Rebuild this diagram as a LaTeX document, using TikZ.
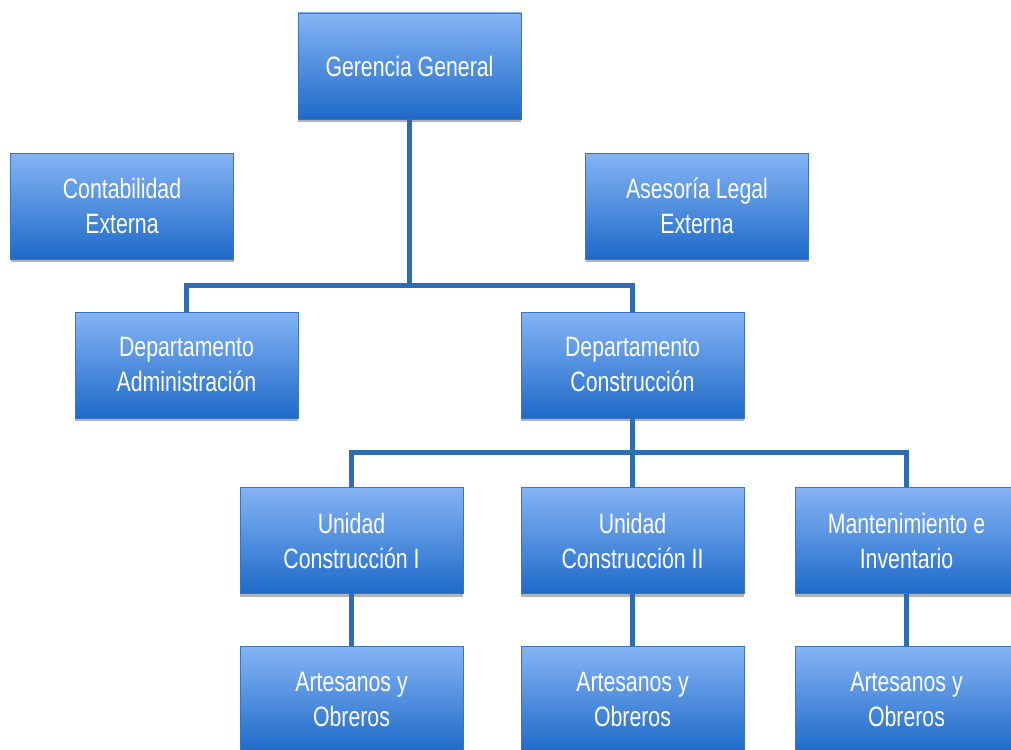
\documentclass[tikz,border=0pt]{standalone}
\usepackage{fontspec}
\setmainfont{Liberation Sans}[FakeStretch=0.76]
\usetikzlibrary{shadows}
\definecolor{boxtop}{RGB}{133,180,245}
\definecolor{boxbot}{RGB}{30,106,200}
\definecolor{boxline}{RGB}{58,116,190}
\definecolor{linkcol}{RGB}{46,108,180}
\tikzset{
  orgbox/.style={rectangle,draw=boxline,line width=0.8pt,
    top color=boxtop,bottom color=boxbot,
    minimum width=223pt,minimum height=106pt,text width=210pt,align=flush center,
    text=white,font=\fontsize{28}{35}\selectfont,
    drop shadow={shadow xshift=0pt,shadow yshift=-3pt,fill=black!50,opacity=0.6}},
  link/.style={draw=linkcol,line width=5pt}
}
\begin{document}
\begin{tikzpicture}[x=1pt,y=-1pt]
  \path[use as bounding box,clip] (0,0) rectangle (1011,749);
  % --- top level and external advisors ---
  \node[orgbox] (gerencia) at (409.5,66)  {Gerencia General};
  \node[orgbox] (contab)   at (122,206)   {Contabilidad\\Externa};
  \node[orgbox] (legal)    at (697,206)   {Asesoría Legal\\Externa};
  % --- departments ---
  \node[orgbox] (admin)    at (186.5,365) {Departamento\\Administración};
  \node[orgbox] (constr)   at (632.5,365) {Departamento\\Construcción};
  % --- units ---
  \node[orgbox] (unidadA)  at (351.5,540.5) {Unidad\\Construcción I};
  \node[orgbox] (unidadB)  at (632.5,540.5) {Unidad\\Construcción II};
  \node[orgbox] (mant)     at (906.5,540.5) {Mantenimiento e\\Inventario};
  % --- workers ---
  \node[orgbox] (obrerosA) at (351.5,699) {Artesanos y\\Obreros};
  \node[orgbox] (obrerosB) at (632.5,699) {Artesanos y\\Obreros};
  \node[orgbox] (obrerosC) at (906.5,699) {Artesanos y\\Obreros};
  % --- connectors ---
  \coordinate (busA) at (409.5,285);
  \coordinate (busB) at (632.5,452);
  \draw[link] (gerencia.south) -- (busA);
  \draw[link] (admin.north) |- (busA) -| (constr.north);
  \draw[link] (constr.south) -- (busB);
  \draw[link] (unidadA.north) |- (busB) -| (mant.north);
  \draw[link] (unidadB.north) -- (busB);
  \draw[link] (unidadA.south) -- (obrerosA.north);
  \draw[link] (unidadB.south) -- (obrerosB.north);
  \draw[link] (mant.south) -- (obrerosC.north);
\end{tikzpicture}
\end{document}
